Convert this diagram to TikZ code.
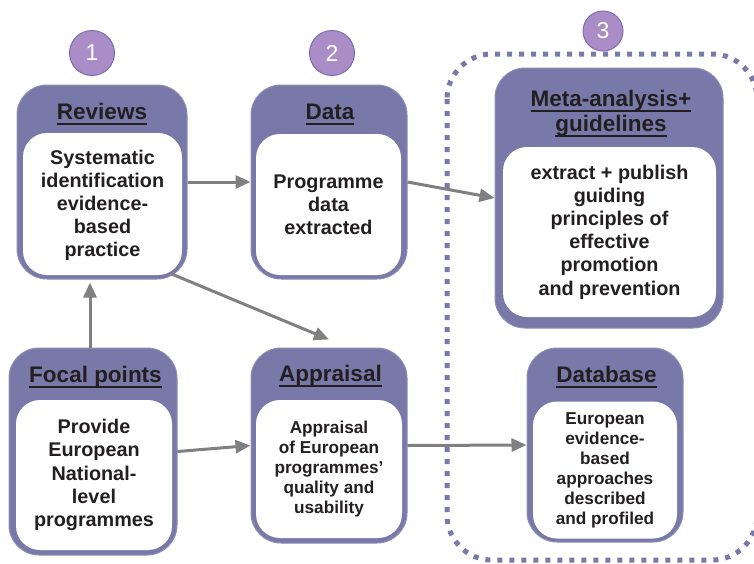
\documentclass[tikz,border=0pt]{standalone}
\usepackage{fontspec}
\setmainfont{Liberation Sans}
\usetikzlibrary{arrows.meta}
\definecolor{boxc}{HTML}{7879A9}
\definecolor{lilac}{HTML}{AA8DC6}
\definecolor{lilacdk}{HTML}{7C6DB6}
\definecolor{ink}{HTML}{231F20}
\definecolor{arrc}{HTML}{808080}
\newcommand\hdline[1]{\setbox0\hbox{#1}\rlap{\rule[-5.5pt]{\wd0}{2pt}}\box0}
\tikzset{
  outbox/.style={fill=boxc,draw=boxc!85!white,line width=1pt,rounded corners=30pt},
  inbox/.style={fill=white,rounded corners=24pt,inner sep=0pt,align=center,text=ink,font=\bfseries\fontsize{19.8}{23.2}\selectfont},
  smallbox/.style={inbox,font=\bfseries\fontsize{17.2}{20}\selectfont},
  head/.style={text=ink,inner sep=0pt,align=center,font=\bfseries\fontsize{22.5}{25}\selectfont},
  num/.style={circle,fill=lilac,draw=lilacdk,line width=1pt,text=white,inner sep=0pt,minimum size=45pt,font=\fontsize{23}{24}\selectfont},
  arr/.style={-{Triangle[length=15pt,width=13pt]},line width=3pt,draw=arrc,fill=arrc},
  frame/.style={draw=boxc,line width=5pt,dash pattern=on 5pt off 7pt,rounded corners=45pt}
}
\begin{document}
\begin{tikzpicture}[x=1pt,y=-1pt]
\useasboundingbox (0,0) rectangle (754,563);
\clip (0,0) rectangle (754,563);

\node (rev) at (102,182) [outbox,minimum width=170pt,minimum height=194pt]{};
\node (dat) at (329,182) [outbox,minimum width=156pt,minimum height=194pt]{};
\node (meta) at (609,198) [outbox,minimum width=228pt,minimum height=260pt]{};
\node (foc) at (93,451.5) [outbox,minimum width=168pt,minimum height=207pt]{};
\node (app) at (329,445.5) [outbox,minimum width=156pt,minimum height=195pt]{};
\node (db) at (605,445) [outbox,minimum width=156pt,minimum height=194pt]{};

\node (revin) at (102.5,204) [inbox,minimum width=159pt,minimum height=142pt,text depth=1.5pt]{Systematic\\identification\\evidence-\\based\\practice};
\node (datin) at (328.5,204.5) [inbox,minimum width=145pt,minimum height=141pt]{Programme\\data\\extracted};
\node (metain) at (609.5,232) [inbox,minimum width=213pt,minimum height=170pt]{extract + publish\\guiding\\principles of\\effective\\promotion\\and prevention};
\node (focin) at (94,475) [inbox,minimum width=156pt,minimum height=150pt]{Provide\\European\\National-\\level\\programmes};
\node (appin) at (329,469) [smallbox,minimum width=146pt,minimum height=138pt]{Appraisal\\of European\\programmes’\\quality and\\usability};
\node (dbin) at (605,470) [smallbox,minimum width=144pt,minimum height=137pt]{European\\evidence-\\based\\approaches\\described\\and profiled};

\node (revh) at (102,119) [head,anchor=base]{\hdline{Reviews}};
\node (dath) at (330,119) [head,anchor=base]{\hdline{Data}};
\node (metah) at (611,114) [head]{\hdline{Meta-analysis+}\\\hdline{guidelines}};
\node (foch) at (95.5,382) [head,anchor=base]{\hdline{Focal points}};
\node (apph) at (330.5,381) [head,anchor=base]{\hdline{Appraisal}};
\node (dbh) at (606.5,382) [head,anchor=base]{\hdline{Database}};

\node (n1) at (92,53) [num]{1};
\node (n2) at (332,53) [num]{2};
\node (n3) at (603,31) [num,minimum size=40pt]{3};

\draw[frame] (447,54) rectangle (757,560);

\draw[arr] (rev.east) -- (dat.west);
\draw[arr] (dat.east) -- (meta.west);
\draw[arr] ([xshift=-17pt,yshift=6pt]rev.south east) -- ([yshift=8pt]app.north);
\draw[arr] ([xshift=-3pt]foc.north) -- ([xshift=-3pt,yshift=-3pt]foc.north |- rev.south);
\draw[arr] (foc.east) -- (app.west);
\draw[arr] (app.east) -- (db.west);

\end{tikzpicture}
\end{document}
